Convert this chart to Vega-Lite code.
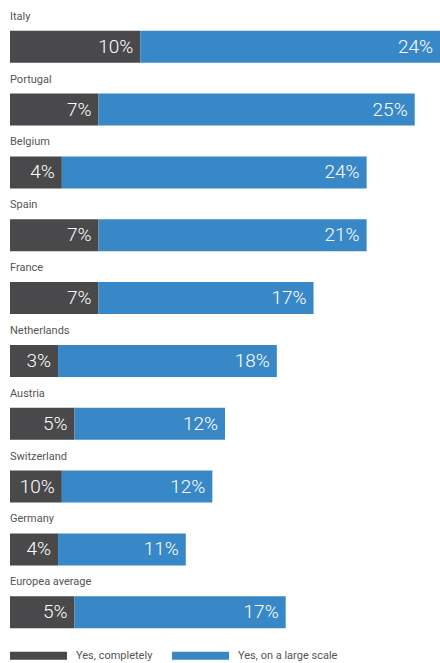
{
  "$schema": "https://vega.github.io/schema/vega-lite/v6.json",
  "autosize": "none",
  "width": 430,
  "height": 629,
  "padding": {"left": 10, "top": 15, "right": 0, "bottom": 19},
  "background": "white",
  "config": {"view": {"stroke": null}, "font": "Roboto"},
  "data": {
    "values": [
      {"country": "Italy", "cat": "Yes, completely", "ord": 1, "value": 10.3, "label": "10%"},
      {"country": "Italy", "cat": "Yes, on a large scale", "ord": 2, "value": 23.7, "label": "24%"},
      {"country": "Portugal", "cat": "Yes, completely", "ord": 1, "value": 7.0, "label": "7%"},
      {"country": "Portugal", "cat": "Yes, on a large scale", "ord": 2, "value": 25.0, "label": "25%"},
      {"country": "Belgium", "cat": "Yes, completely", "ord": 1, "value": 4.1, "label": "4%"},
      {"country": "Belgium", "cat": "Yes, on a large scale", "ord": 2, "value": 24.1, "label": "24%"},
      {"country": "Spain", "cat": "Yes, completely", "ord": 1, "value": 7.0, "label": "7%"},
      {"country": "Spain", "cat": "Yes, on a large scale", "ord": 2, "value": 21.2, "label": "21%"},
      {"country": "France", "cat": "Yes, completely", "ord": 1, "value": 7.0, "label": "7%"},
      {"country": "France", "cat": "Yes, on a large scale", "ord": 2, "value": 17.0, "label": "17%"},
      {"country": "Netherlands", "cat": "Yes, completely", "ord": 1, "value": 3.8, "label": "3%"},
      {"country": "Netherlands", "cat": "Yes, on a large scale", "ord": 2, "value": 17.3, "label": "18%"},
      {"country": "Austria", "cat": "Yes, completely", "ord": 1, "value": 5.1, "label": "5%"},
      {"country": "Austria", "cat": "Yes, on a large scale", "ord": 2, "value": 11.9, "label": "12%"},
      {"country": "Switzerland", "cat": "Yes, completely", "ord": 1, "value": 4.1, "label": "10%"},
      {"country": "Switzerland", "cat": "Yes, on a large scale", "ord": 2, "value": 11.9, "label": "12%"},
      {"country": "Germany", "cat": "Yes, completely", "ord": 1, "value": 3.8, "label": "4%"},
      {"country": "Germany", "cat": "Yes, on a large scale", "ord": 2, "value": 10.1, "label": "11%"},
      {"country": "Europea average", "cat": "Yes, completely", "ord": 1, "value": 5.1, "label": "5%"},
      {"country": "Europea average", "cat": "Yes, on a large scale", "ord": 2, "value": 16.7, "label": "17%"}
    ]
  },
  "transform": [
    {"stack": "value", "groupby": ["country"], "sort": [{"field": "ord", "order": "ascending"}], "as": ["x0", "x1"]}
  ],
  "encoding": {
    "y": {
      "field": "country",
      "type": "nominal",
      "sort": null,
      "axis": null,
      "scale": {"paddingInner": 0.49, "paddingOuter": 0.25}
    }
  },
  "layer": [
    {
      "mark": {"type": "bar", "cornerRadius": 0},
      "encoding": {
        "x": {"field": "x0", "type": "quantitative", "axis": null, "scale": {"domain": [0, 34], "nice": false, "zero": true}},
        "x2": {"field": "x1"},
        "color": {
          "field": "cat",
          "type": "nominal",
          "scale": {"domain": ["Yes, completely", "Yes, on a large scale"], "range": ["#49484a", "#3888c8"]},
          "legend": {
            "title": null,
            "orient": "none",
            "direction": "horizontal",
            "legendX": 0,
            "legendY": 612,
            "padding": 0,
            "symbolType": "M-1,-0.14L1,-0.14L1,0.14L-1,0.14Z",
            "symbolSize": 3249,
            "symbolStrokeWidth": 0,
            "symbolOpacity": 1,
            "labelOffset": 9,
            "labelFontSize": 11,
            "labelFont": "Roboto",
            "labelColor": "#555555",
            "columnPadding": 19,
            "encode": {
              "symbols": {
                "update": {
                  "fill": [
                    {"test": "datum.label === 'Yes, on a large scale'", "value": "#0a7cc2"},
                    {"value": "#49484a"}
                  ],
                  "opacity": {"value": 1}
                }
              }
            }
          }
        }
      }
    },
    {
      "mark": {"type": "text", "align": "right", "baseline": "alphabetic", "dx": -7, "dy": 6, "fontSize": 19, "font": "Roboto", "fontWeight": 300, "color": "white"},
      "encoding": {
        "x": {"field": "x1", "type": "quantitative"},
        "text": {"field": "label"}
      }
    },
    {
      "transform": [{"filter": "datum.ord === 1"}],
      "mark": {"type": "text", "align": "left", "baseline": "alphabetic", "dy": -27, "fontSize": 11, "font": "Roboto", "color": "#555555"},
      "encoding": {
        "x": {"datum": 0, "type": "quantitative"},
        "text": {"field": "country"}
      }
    }
  ]
}
